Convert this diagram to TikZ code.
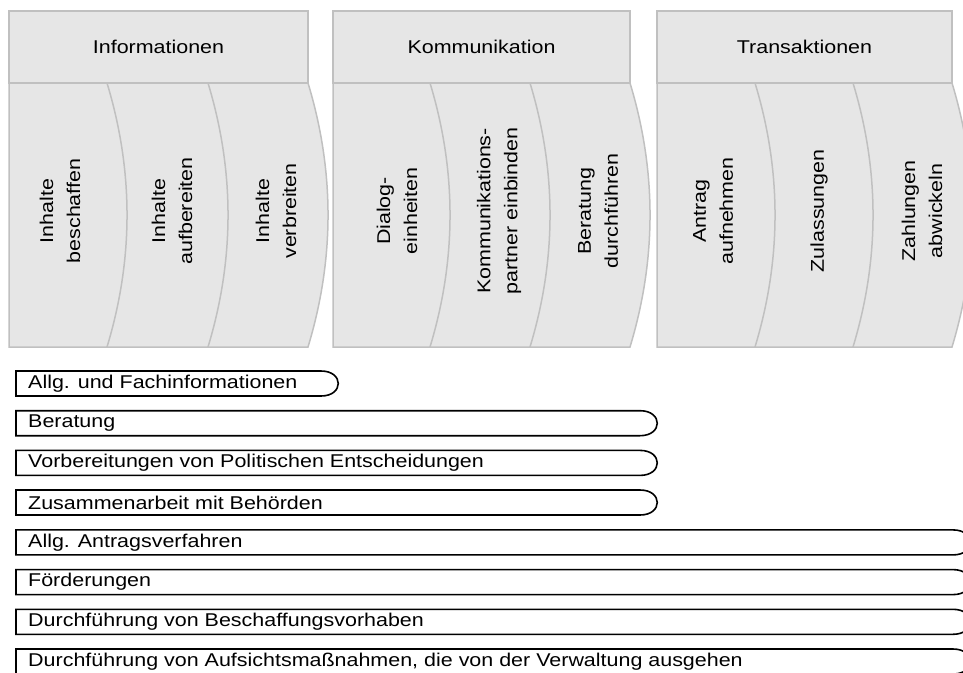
\documentclass[tikz,border=0pt]{standalone}
\usepackage{fontspec}
\setmainfont{Liberation Sans}[FakeStretch=1.16]
\definecolor{segfill}{HTML}{E6E6E6}
\definecolor{segline}{HTML}{C0C0C0}
\newcommand\mysegment[2]{\path[seg] (#1,83) -- (#2,83) .. controls (#2+26.7,171) and (#2+26.7,259) .. (#2,347) -- (#1,347) -- cycle;}
\newcommand\mybar[4]{%
  \path[bar] (16,#1) -- (#2-17,#1) .. controls (#2+6,#1) and (#2+6,#1+25) .. (#2-17,#1+25) -- (16,#1+25) -- cycle;
  \node[btext] (#4) at (28,#1+12.5) {#3};}
\begin{document}
\begin{tikzpicture}[x=1pt,y=-1pt,
  seg/.style={fill=segfill,draw=segline,line width=1.5pt},
  hdr/.style={fill=segfill,draw=segline,line width=1.5pt},
  bar/.style={fill=white,draw=black,line width=1.6pt},
  vtext/.style={rotate=90,align=center,font=\fontsize{18.5}{27}\selectfont,inner sep=0pt},
  htext/.style={font=\fontsize{18.5}{22}\selectfont,inner sep=0pt},
  btext/.style={anchor=west,font=\fontsize{18.5}{22}\selectfont,inner sep=0pt}]
\useasboundingbox (0,0) rectangle (963,672);
\clip (0,0) rectangle (963,672);
% group 1
\mysegment{208}{308}
\mysegment{107}{208}
\mysegment{9}{107}
\path[hdr] (9,11) rectangle (308,83);
% group 2
\mysegment{530}{630}
\mysegment{430}{530}
\mysegment{333}{430}
\path[hdr] (333,11) rectangle (630,83);
% group 3
\mysegment{853}{952}
\mysegment{755}{853}
\mysegment{657}{755}
\path[hdr] (657,11) rectangle (952,83);
% header texts
\node[htext] (h1) at (158.5,47) {Informationen};
\node[htext] (h2) at (481.5,47) {Kommunikation};
\node[htext] (h3) at (804.5,47) {Transaktionen};
% vertical texts
\node[vtext] (t11) at (60,211) {Inhalte\\beschaffen};
\node[vtext] (t12) at (172,211) {Inhalte\\aufbereiten};
\node[vtext] (t13) at (276,211) {Inhalte\\verbreiten};
\node[vtext] (t21) at (397,211) {Dialog-\\einheiten};
\node[vtext] (t22) at (499,211) {Kommunikations-\\partner einbinden};
\node[vtext] (t23) at (598,211) {Beratung\\durchführen};
\node[vtext] (t31) at (713,211) {Antrag\\aufnehmen};
\node[vtext] (t32) at (819,211) {Zulassungen};
\node[vtext] (t33) at (922,211) {Zahlungen\\abwickeln};
% bars
\mybar{371}{338}{Allg. und Fachinformationen}{b1}
\mybar{410.7}{657}{Beratung}{b2}
\mybar{450.4}{657}{Vorbereitungen von Politischen Entscheidungen}{b3}
\mybar{490}{657}{Zusammenarbeit mit Behörden}{b4}
\mybar{529.9}{970}{Allg. Antragsverfahren}{b5}
\mybar{569.6}{970}{Förderungen}{b6}
\mybar{609.3}{970}{Durchführung von Beschaffungsvorhaben}{b7}
\mybar{649}{970}{Durchführung von Aufsichtsmaßnahmen, die von der Verwaltung ausgehen}{b8}
\end{tikzpicture}
\end{document}
